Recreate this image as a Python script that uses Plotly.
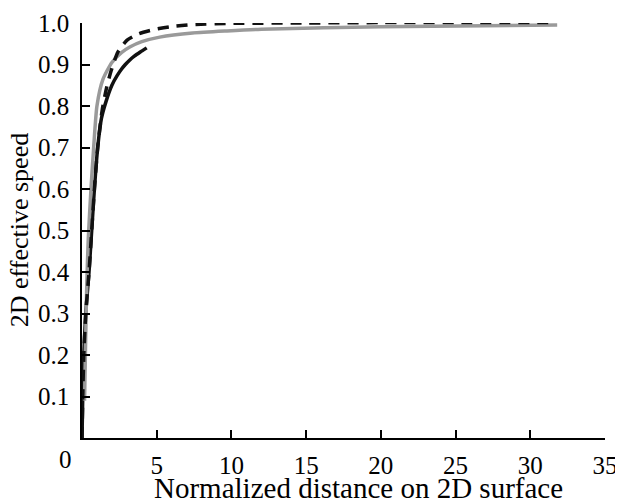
import plotly.graph_objects as go

# Data
black_x = [0.0, 0.05, 0.12, 0.25, 0.47, 0.65, 0.83, 1.05, 1.3, 1.6, 2.0, 2.35, 2.65, 2.9, 3.2, 3.5, 3.9, 4.33]
black_y = [0.0, 0.1, 0.2, 0.3, 0.4, 0.5, 0.6, 0.7, 0.77, 0.81, 0.85, 0.873, 0.889, 0.9, 0.911, 0.92, 0.93, 0.94]

dash_x = [0.0, 0.05, 0.12, 0.25, 0.47, 0.65, 0.83, 1.05, 1.35, 1.65, 1.95, 2.4, 3.0, 3.8, 4.8, 5.9, 7.4, 9.7, 15.0, 20.0, 25.0, 31.2]
dash_y = [0.0, 0.1, 0.2, 0.3, 0.4, 0.5, 0.6, 0.7, 0.79, 0.845, 0.885, 0.93, 0.958, 0.974, 0.984, 0.991, 0.996, 0.999, 1.0, 1.001, 1.001, 1.001]

gray_x = [0.17, 0.25, 0.32, 0.42, 0.6, 0.78, 1.0, 1.4, 2.0, 2.66, 3.2, 4.0, 5.2, 7.4, 9.7, 12.0, 20.0, 31.8]
gray_y = [0.09, 0.25, 0.37, 0.48, 0.6, 0.7, 0.8, 0.864, 0.905, 0.929, 0.942, 0.955, 0.966, 0.976, 0.981, 0.985, 0.991, 0.995]

x_ticks = [5, 10, 15, 20, 25, 30, 35]
y_ticks = [0.1, 0.2, 0.3, 0.4, 0.5, 0.6, 0.7, 0.8, 0.9, 1.0]
y_ticktext = ["0.1", "0.2", "0.3", "0.4", "0.5", "0.6", "0.7", "0.8", "0.9", "1.0"]

FONT = "Liberation Serif"

fig = go.Figure()
fig.add_trace(go.Scatter(x=black_x, y=black_y, mode="lines",
                         line=dict(color="#111111", width=3.5, shape="spline", smoothing=0.6),
                         showlegend=False, hoverinfo="skip"))
fig.add_trace(go.Scatter(x=gray_x, y=gray_y, mode="lines",
                         line=dict(color="#9a9a9a", width=3.5, shape="spline", smoothing=0.6),
                         showlegend=False, hoverinfo="skip"))
fig.add_trace(go.Scatter(x=dash_x, y=dash_y, mode="lines",
                         line=dict(color="#111111", width=3.5, dash="11px,8px", shape="spline", smoothing=0.6),
                         showlegend=False, hoverinfo="skip"))

fig.update_layout(
    width=615, height=496,
    margin=dict(l=74, r=18, t=15, b=66, autoexpand=False),
    paper_bgcolor="white", plot_bgcolor="white",
    font=dict(family=FONT, size=25, color="black"),
    xaxis=dict(range=[0, 35], showgrid=False, zeroline=False, showline=True, automargin=False,
               linecolor="black", linewidth=1.5, ticks="inside", ticklen=8,
               tickwidth=1.5, tickcolor="black", tickvals=x_ticks,
               tickfont=dict(family=FONT, size=25, color="black"),
               ticklabelstandoff=4),
    yaxis=dict(range=[0, 1.0], showgrid=False, zeroline=False, showline=True, automargin=False,
               linecolor="black", linewidth=1.5, ticks="inside", ticklen=8,
               tickwidth=1.5, tickcolor="black", tickvals=y_ticks, ticktext=y_ticktext,
               tickfont=dict(family=FONT, size=25, color="black"),
               ticklabelstandoff=6),
    annotations=[
        dict(text="Normalized distance on 2D surface", xref="paper", yref="paper",
             x=0.5296, y=-0.1205, xanchor="center", yanchor="middle", showarrow=False,
             font=dict(family=FONT, size=29, color="black")),
        dict(text="2D effective speed", xref="paper", yref="paper",
             x=-0.119, y=0.5, xanchor="center", yanchor="middle", textangle=-90,
             showarrow=False, font=dict(family=FONT, size=26, color="black")),
        dict(text="0", xref="paper", yref="paper", x=-0.0306, y=-0.053,
             xanchor="center", yanchor="middle", showarrow=False,
             font=dict(family=FONT, size=25, color="black")),
    ],
)

fig.write_html("out.html")
